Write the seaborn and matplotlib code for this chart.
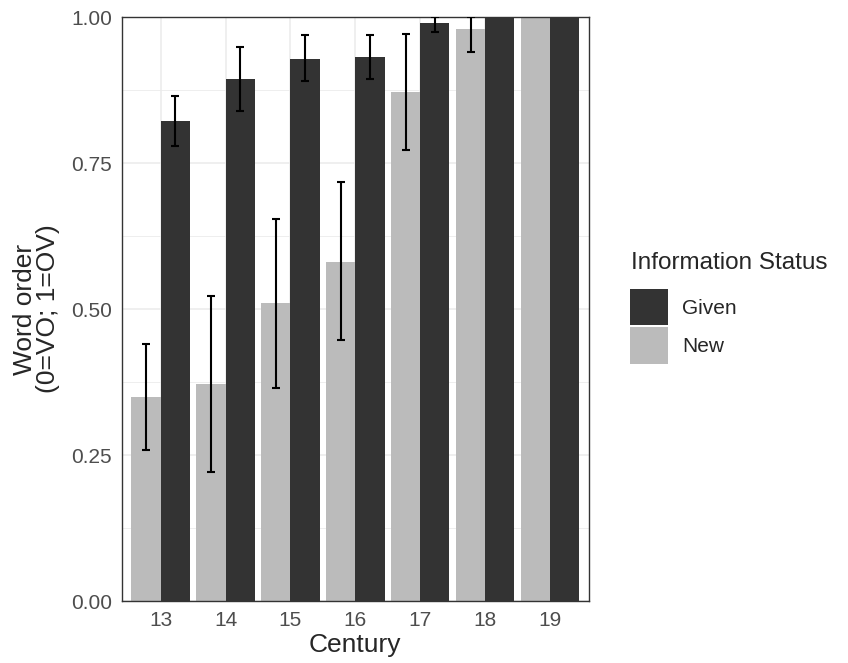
import numpy as np
import pandas as pd
import matplotlib
matplotlib.use("Agg")
import matplotlib.pyplot as plt
import seaborn as sns
from matplotlib.patches import Patch
from matplotlib.ticker import MultipleLocator

centuries = ['13', '14', '15', '16', '17', '18', '19']
statuses = ['New', 'Given']
new_vals = [0.349, 0.372, 0.510, 0.581, 0.872, 0.979, 1.0]
given_vals = [0.822, 0.894, 0.929, 0.932, 0.990, 1.0, 1.0]
new_lo = [0.258, 0.221, 0.365, 0.447, 0.773, 0.941, np.nan]
new_hi = [0.440, 0.523, 0.655, 0.717, 0.971, 1.0, np.nan]
given_lo = [0.779, 0.840, 0.890, 0.894, 0.974, np.nan, np.nan]
given_hi = [0.865, 0.949, 0.970, 0.970, 1.0, np.nan, np.nan]
colors = {'Given': '#333333', 'New': '#BBBBBB'}

df = pd.DataFrame({
    'Century': centuries * 2,
    'Status': ['New'] * 7 + ['Given'] * 7,
    'value': new_vals + given_vals,
    'lo': new_lo + given_lo,
    'hi': new_hi + given_hi,
})

sns.set_style('white')
plt.rcParams['font.family'] = ['Liberation Sans', 'DejaVu Sans']

fig = plt.figure(figsize=(8.48, 6.63), dpi=100)
ax = fig.add_axes([0.1435, 0.0935, 0.551, 0.8805])

sns.barplot(data=df, x='Century', y='value', hue='Status', order=centuries,
            hue_order=statuses, palette=colors, width=0.9, gap=0,
            linewidth=0, saturation=1, legend=False, ax=ax, zorder=2)

# error bars at the centres of the drawn bars
for status, cont in zip(statuses, ax.containers):
    sub = df[df['Status'] == status].set_index('Century').loc[centuries]
    xs = np.array([p.get_x() + p.get_width() / 2 for p in cont.patches])
    vals = sub['value'].to_numpy()
    lo = sub['lo'].to_numpy()
    hi = sub['hi'].to_numpy()
    m = ~np.isnan(lo)
    ax.errorbar(xs[m], vals[m], yerr=[vals[m] - lo[m], hi[m] - vals[m]],
                fmt='none', ecolor='black', elinewidth=1.5, capsize=2.8,
                capthick=1.5, zorder=3, clip_on=True)

ax.set_xlim(-0.6, 6.6)
ax.set_ylim(0, 1)
ax.yaxis.set_major_locator(MultipleLocator(0.25))
ax.yaxis.set_minor_locator(MultipleLocator(0.125))
ax.set_yticks([0, 0.25, 0.5, 0.75, 1.0])
ax.set_yticklabels(['0.00', '0.25', '0.50', '0.75', '1.00'])
ax.grid(True, which='major', color='#EBEBEB', linewidth=1.1, zorder=0)
ax.grid(True, which='minor', axis='y', color='#EBEBEB', linewidth=0.6, zorder=0)
ax.set_axisbelow(True)
for s in ax.spines.values():
    s.set_color('#333333')
    s.set_linewidth(1.0)
ax.tick_params(axis='both', which='major', length=4, width=1.0, color='#333333',
               labelsize=15, labelcolor='#4D4D4D', pad=3)
ax.tick_params(axis='y', which='minor', length=0)

ax.set_xlabel('Century', fontsize=19, labelpad=2)
ax.set_ylabel('Word order\n(0=VO; 1=OV)', fontsize=19, labelpad=8, linespacing=0.95)

# legend: title as separate text so the gap to the keys matches
fig.text(631 / 848, 1 - 263 / 663, 'Information Status', fontsize=17.5,
         ha='left', va='center')
handles = [Patch(facecolor=colors['Given'], edgecolor='none', label='Given'),
           Patch(facecolor=colors['New'], edgecolor='none', label='New')]
fig.legend(handles=handles, loc='upper left',
           bbox_to_anchor=(630 / 848, 1 - 289 / 663), frameon=False, fontsize=15,
           handlelength=1.8, handleheight=2.3,
           handletextpad=0.7, labelspacing=0.1, borderpad=0,
           borderaxespad=0)

fig.savefig('out.png', dpi=100)
